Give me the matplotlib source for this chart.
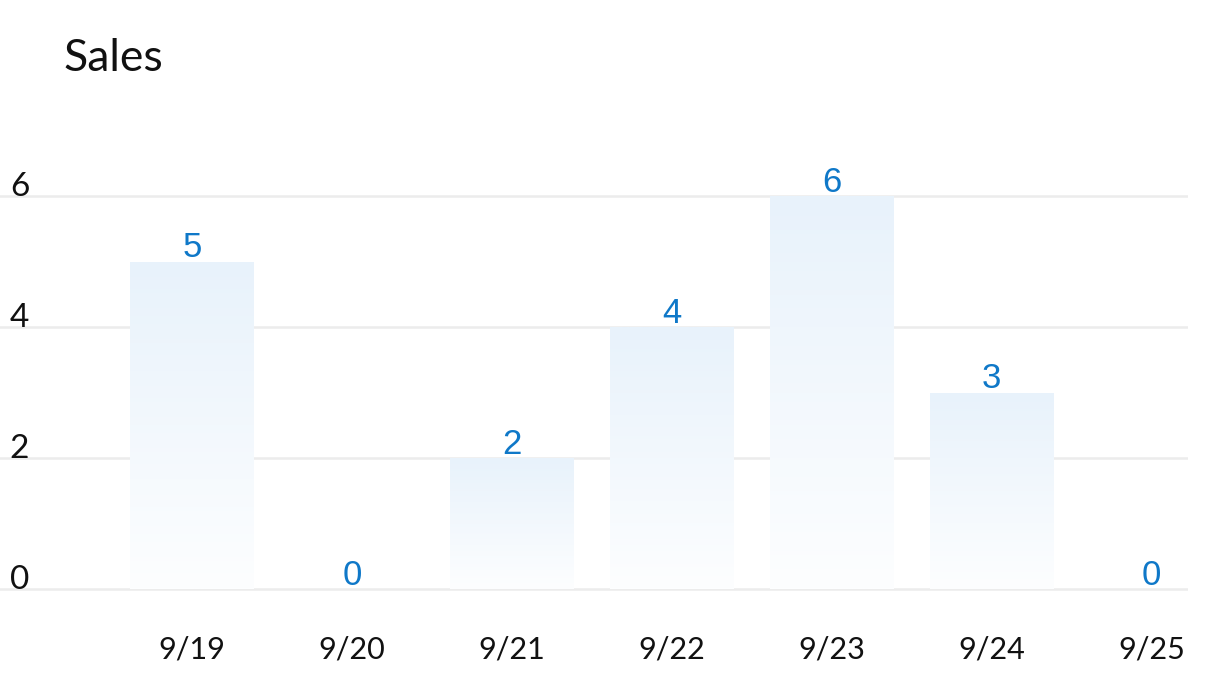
import matplotlib.pyplot as plt
import numpy as np
from matplotlib.colors import LinearSegmentedColormap
from matplotlib import transforms

## data
days = ["9/19", "9/20", "9/21", "9/22", "9/23", "9/24", "9/25"]
sales = [5, 0, 2, 4, 6, 3, 0]
yticks = [0, 2, 4, 6]

plt.rcParams['font.family'] = ['Lato', 'DejaVu Sans']

fig = plt.figure(figsize=(12.27, 6.99), dpi=100)
ax = fig.add_axes([0.0, 0.148, 0.968, 0.5997])

x = np.arange(len(days))
bars = ax.bar(x, sales, width=0.775, color='none', zorder=2)

# vertical gradient inside every bar
grad = np.linspace(0, 1, 256).reshape(-1, 1)
cmap = LinearSegmentedColormap.from_list("g", ["#fdfeff", "#e8f2fb"])
for b in bars:
    if b.get_height() == 0:
        continue
    x0, w, h = b.get_x(), b.get_width(), b.get_height()
    im = ax.imshow(grad, cmap=cmap, aspect='auto', origin='lower',
                   extent=(x0, x0 + w, 0, h), zorder=2)
    im.set_clip_path(b)

ax.set_xlim(-1.2, 6.225)
ax.set_ylim(-0.1, 6.3)

# grid
for v in yticks:
    ax.axhline(v, color='#ececec', lw=1.8, zorder=1)

# value labels
for xi, v in zip(x, sales):
    ax.annotate(str(v), (xi, v), xytext=(0, 3), textcoords='offset points',
                ha='center', va='baseline', fontsize=25, color='#0f78c8',
                family=['Liberation Sans', 'DejaVu Sans'], zorder=3)

# y labels sitting on the grid lines
tr = transforms.blended_transform_factory(fig.transFigure, ax.transData)
for v in yticks:
    fig.text(0.008, v, str(v), transform=tr, ha='left', va='baseline',
             fontsize=24, color='#111111')

ax.set_yticks([])
ax.set_xticks(x)
ax.set_xticklabels(days, fontsize=22, color='#111111')
ax.tick_params(axis='x', length=0, pad=29)
for s in ax.spines.values():
    s.set_visible(False)

fig.text(0.052, 0.917, "Sales", fontsize=32, color='#111111', ha='left', va='center')

fig.savefig("out.png", dpi=100, facecolor='white')
